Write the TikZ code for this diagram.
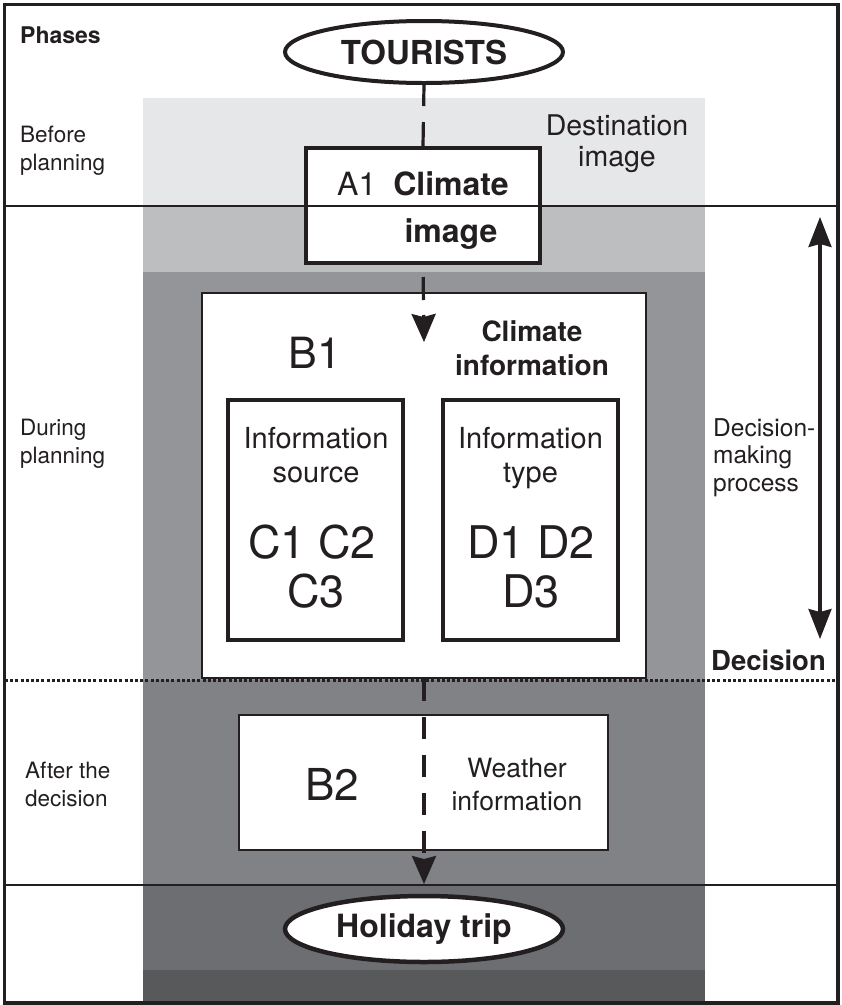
\documentclass[tikz,border=0pt]{standalone}
\usepackage{fontspec}
\setmainfont{TeX Gyre Heros}
\usetikzlibrary{shapes.geometric,arrows.meta}
\newcommand\fsz[1]{\fontsize{#1}{#1}\selectfont}
\definecolor{ink}{HTML}{231F20}
\definecolor{bandA}{HTML}{E6E7E8}
\definecolor{bandB}{HTML}{BCBEC0}
\definecolor{bandC}{HTML}{939598}
\definecolor{bandD}{HTML}{808285}
\definecolor{bandE}{HTML}{6D6E71}
\definecolor{bandF}{HTML}{58595B}
\begin{document}
\begin{tikzpicture}[x=1pt,y=-1pt,
  every node/.style={text=ink},
  sidelbl/.style={anchor=base west, inner sep=0pt, font=\fsz{22.5}},
  txt/.style={anchor=base, inner sep=0pt},
  boxA/.style={draw=ink, fill=white, rectangle, inner sep=0pt, line width=4pt},
  boxB/.style={draw=ink, fill=white, rectangle, inner sep=0pt, line width=2.5pt},
  boxC/.style={draw=ink, fill=white, rectangle, inner sep=0pt, line width=3.2pt},
  oval/.style={draw=ink, fill=white, ellipse, inner sep=0pt, line width=4pt, font=\fsz{33}\bfseries},
  flow/.style={draw=ink, line width=3.2pt},
  head/.style={-{Stealth[length=28pt,width=24pt,inset=3pt]}},
  phaseline/.style={draw=ink, line width=2pt}
]
\useasboundingbox (0,0) rectangle (842,1005);
% grey bands
\fill[bandA] (143,98) rectangle (705,206);
\fill[bandB] (143,206) rectangle (705,272);
\fill[bandC] (143,272) rectangle (705,680);
\fill[bandD] (143,680) rectangle (705,885);
\fill[bandE] (143,885) rectangle (705,970);
\fill[bandF] (143,970) rectangle (705,1003);

% boxes
\node[boxA, minimum width=234pt, minimum height=115pt] (a1) at (423,205.5) {};
\node[boxB, minimum width=444pt, minimum height=385pt] (b1) at (424,485.5) {};
\node[boxC, minimum width=175pt, minimum height=240pt] (src) at (315.5,520) {};
\node[boxC, minimum width=175pt, minimum height=240pt] (typ) at (530.5,520) {};
\node[boxB, minimum width=369pt, minimum height=135pt] (b2) at (423.5,782.5) {};
\node[oval, minimum width=278pt, minimum height=62pt] (tourists) at (424,52) {TOURISTS};
\node[oval, minimum width=278pt, minimum height=66pt, line width=4.5pt, font=\fsz{32}\bfseries] (trip) at (424,929) {Holiday trip};

% phase lines and frame
\draw[phaseline] (5,206) -- (838,206);
\draw[phaseline] (5,885) -- (838,885);
\draw[draw=ink, line width=3pt, dash pattern=on 3pt off 2.2pt] (5,680) -- (838,680);
\draw[draw=ink, line width=3.2pt] (4.5,4.5) rectangle (838,1003);

% texts
\node[sidelbl, font=\fsz{23}\bfseries] (phases) at (20,43) {Phases};
\node[sidelbl] (bef1) at (20,142) {Before};
\node[sidelbl] (bef2) at (20,170) {planning};
\node[sidelbl] (dur1) at (20,435) {During};
\node[sidelbl] (dur2) at (20,463) {planning};
\node[sidelbl] (aft1) at (25,778) {After the};
\node[sidelbl] (aft2) at (25,806) {decision};

\node[txt, font=\fsz{28.5}] (dest1) at (617,135) {Destination};
\node[txt, font=\fsz{28.5}] (dest2) at (617,166) {image};

\node[anchor=base west, inner sep=0pt, font=\fsz{32}] (a1lbl) at (337,195) {A1};
\node[txt, font=\fsz{32}\bfseries] (a1t1) at (451,195) {Climate};
\node[txt, font=\fsz{32}\bfseries] (a1t2) at (451,242) {image};

\node[txt, font=\fsz{43}] (b1lbl) at (315,368) {B1};
\node[txt, font=\fsz{28}\bfseries] (ci1) at (532,341) {Climate};
\node[txt, font=\fsz{28}\bfseries] (ci2) at (532,375) {information};

\node[txt, font=\fsz{29}] (s1) at (316,448) {Information};
\node[txt, font=\fsz{29}] (s2) at (316,482) {source};
\node[txt, font=\fsz{45}] (s3) at (312,558) {C1 C2};
\node[txt, font=\fsz{45}] (s4) at (316,607) {C3};
\node[txt, font=\fsz{29}] (t1) at (530.5,448) {Information};
\node[txt, font=\fsz{29}] (t2) at (530.5,482) {type};
\node[txt, font=\fsz{45}] (t3) at (531,558) {D1 D2};
\node[txt, font=\fsz{45}] (t4) at (531,607) {D3};

\node[anchor=base west, inner sep=0pt, font=\fsz{24.5}] (dm1) at (713,436) {Decision-};
\node[anchor=base west, inner sep=0pt, font=\fsz{24.5}] (dm2) at (713,463) {making};
\node[anchor=base west, inner sep=0pt, font=\fsz{24.5}] (dm3) at (713,491) {process};
\node[anchor=base west, inner sep=0pt, font=\fsz{27.5}\bfseries] (dec) at (711,670) {Decision};

\node[txt, font=\fsz{26.5}] (w1) at (517,777) {Weather};
\node[txt, font=\fsz{26.5}] (w2) at (517,810) {information};
\node[txt, font=\fsz{44}] (b2lbl) at (332,800) {B2};

% connectors
\coordinate (tip1) at (424,342);
\coordinate (tip2) at (424,884);
\coordinate (dmtop) at (820,217);
\coordinate (dmbot) at (820,639);
\draw[flow, dash pattern=on 24pt off 16pt] (a1.north) -- (tourists.south);
\draw[flow, head, dash pattern=on 23pt off 15pt, dash phase=26pt] (a1.south) -- (tip1);
\draw[flow, head, dash pattern=on 22pt off 16pt] (b1.south) -- (tip2);
\draw[flow, {Stealth[length=30pt,width=23pt,inset=3pt]}-{Stealth[length=30pt,width=23pt,inset=3pt]}] (dmtop) -- (dmbot);
\end{tikzpicture}
\end{document}
